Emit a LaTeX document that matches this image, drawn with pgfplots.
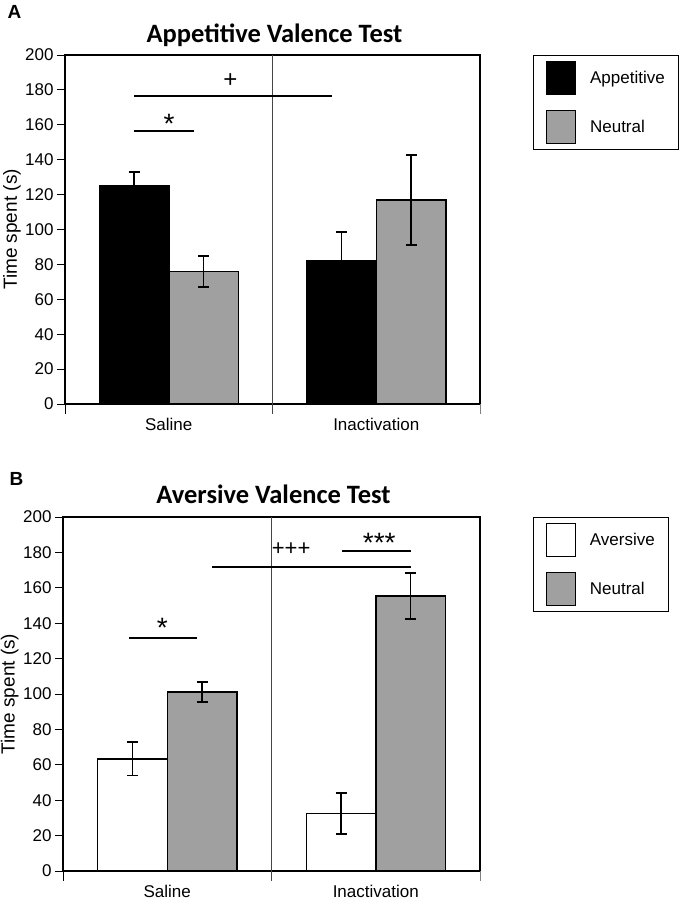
\documentclass[border=0pt]{standalone}
\usepackage{pgfplots}
\pgfplotsset{compat=1.18}
\usepackage{pgfplotstable}
\usepackage{fontspec}
\setmainfont{Liberation Sans}
\newfontfamily\titlefont{Carlito}
\definecolor{bargray}{RGB}{160,160,160}
\definecolor{divgray}{RGB}{70,70,70}

\pgfplotstableread{
x  val   err
0  125.3 7.7
1  82.0  16.6
}\appA
\pgfplotstableread{
x  val   err
0  76.0  8.9
1  116.9 25.8
}\neuA
\pgfplotstableread{
x  val   err
0  63.4  9.5
1  32.6  11.6
}\aveB
\pgfplotstableread{
x  val   err
0  101.1 5.7
1  155.4 13.0
}\neuB

\tikzset{sig/.style={line width=2.2pt, black}}
\pgfplotsset{
  panel/.style={
    scale only axis,
    anchor=south west,
    ybar=0pt,
    bar width=69.5pt,
    xmin=-0.5, xmax=1.5,
    ymin=0, ymax=200,
    ytick={0,20,...,200},
    xtick={0,1},
    xticklabels={Saline,Inactivation},
    xtick style={draw=none},
    ytick pos=left,
    ytick align=outside,
    major tick length=8pt,
    ytick style={line width=0.8pt, black},
    tick label style={font=\fontsize{17}{20}\selectfont},
    /pgf/number format/assume math mode=true,
    xticklabel style={yshift=-3pt},
    axis line style={line width=1.2pt},
    clip=false,
    legend cell align=left,
    legend image code/.code={\draw[##1, line width=1.3pt] (0pt,-16.5pt) rectangle (29pt,16.5pt);},
    legend style={anchor=north west, draw=black, line width=1.3pt,
      font=\fontsize{17}{20}\selectfont, row sep=15pt, inner xsep=12pt, inner ysep=5pt,
      /tikz/every odd column/.append style={column sep=12pt},
      /tikz/every even column/.append style={column sep=0pt}},
    title style={anchor=base, font=\titlefont\bfseries\fontsize{26.5}{30}\selectfont},
    error bars/y dir=both,
    error bars/y explicit,
    error bars/error bar style={line width=1.6pt, black},
    error bars/error mark options={rotate=90, mark size=5.5pt, line width=1.6pt, black},
  },
}

\begin{document}
\begin{tikzpicture}
\useasboundingbox (0pt,0pt) rectangle (682pt,-901pt);

\node[anchor=base west, font=\bfseries\fontsize{19}{22}\selectfont] at (4pt,-19pt) {A};
\node[anchor=base west, font=\bfseries\fontsize{19}{22}\selectfont] at (6pt,-485pt) {B};

% ---------------- Panel A ----------------
\begin{axis}[panel,
  at={(65pt,-404pt)}, width=415pt, height=349pt,
  title={Appetitive Valence Test},
  title style={at={(axis description cs:0.5,1)}, yshift=6pt, xshift=2pt},
  ylabel={Time spent (s)},
  every axis y label/.style={at={(axis description cs:-0.128,0.5)}, rotate=90, anchor=center, font=\fontsize{19}{22}\selectfont},
  legend style={at={(axis description cs:1.128,1)}},
]
\addplot[fill=black, draw=black, line width=1.5pt] table[x=x, y=val, y error=err] {\appA};
\addplot[fill=bargray, draw=black, line width=1.5pt] table[x=x, y=val, y error=err] {\neuA};
\legend{Appetitive, Neutral}
\draw[divgray, line width=0.9pt] (axis cs:0.5,200) -- ([yshift=-10pt]axis cs:0.5,0);
\draw[black, line width=0.8pt] (axis cs:-0.5,0) -- ([yshift=-10pt]axis cs:-0.5,0);
\draw[gray, line width=0.8pt] (axis cs:1.5,0) -- ([yshift=-10pt]axis cs:1.5,0);
\draw[sig] (axis cs:-0.167,176.5) -- (axis cs:0.787,176.5);
\draw[sig] (axis cs:-0.167,156.4) -- (axis cs:0.122,156.4);
\node[anchor=base, font=\fontsize{24}{26}\selectfont] at (axis cs:0.297,181.2) {+};
\node[anchor=base, font=\fontsize{28}{30}\selectfont] at (axis cs:0.002,154.9) {*};
\end{axis}

% ---------------- Panel B ----------------
\begin{axis}[panel,
  at={(63pt,-871pt)}, width=417pt, height=354pt,
  title={Aversive Valence Test},
  title style={at={(axis description cs:0.5,1)}, yshift=8pt, xshift=2pt},
  ylabel={Time spent (s)},
  every axis y label/.style={at={(axis description cs:-0.128,0.5)}, rotate=90, anchor=center, font=\fontsize{19}{22}\selectfont},
  legend style={at={(axis description cs:1.127,1)}},
]
\addplot[fill=white, draw=black, line width=1.5pt] table[x=x, y=val, y error=err] {\aveB};
\addplot[fill=bargray, draw=black, line width=1.5pt] table[x=x, y=val, y error=err] {\neuB};
\legend{Aversive, Neutral}
\draw[divgray, line width=0.9pt] (axis cs:0.5,200) -- ([yshift=-10pt]axis cs:0.5,0);
\draw[black, line width=0.8pt] (axis cs:-0.5,0) -- ([yshift=-10pt]axis cs:-0.5,0);
\draw[gray, line width=0.8pt] (axis cs:1.5,0) -- ([yshift=-10pt]axis cs:1.5,0);
\draw[sig] (axis cs:0.216,171.9) -- (axis cs:1.168,171.9);
\draw[sig] (axis cs:0.840,181) -- (axis cs:1.168,181);
\draw[sig] (axis cs:-0.183,131.6) -- (axis cs:0.144,131.6);
\node[anchor=base, font=\fontsize{22}{24}\selectfont] at (axis cs:0.594,178.5) {+++};
\node[anchor=base, font=\fontsize{28}{30}\selectfont] at (axis cs:1.017,180.2) {***};
\node[anchor=base, font=\fontsize{28}{30}\selectfont] at (axis cs:-0.024,131.8) {*};
\end{axis}
\end{tikzpicture}
\end{document}
